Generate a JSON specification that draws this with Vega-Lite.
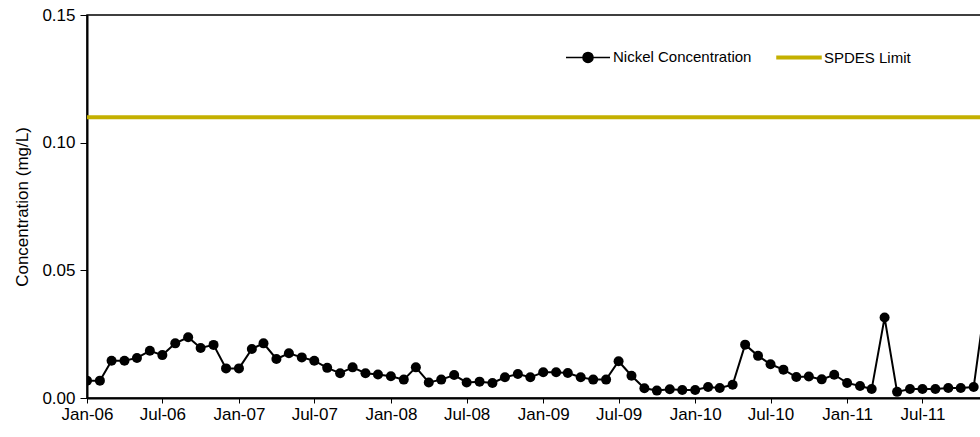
{
  "$schema": "https://vega.github.io/schema/vega-lite/v6.json",
  "autosize": "none",
  "padding": {"left": 87, "top": 15, "right": 0, "bottom": 39},
  "width": 895,
  "height": 383,
  "background": "white",
  "config": {
    "font": "Liberation Sans",
    "view": {"stroke": "black", "strokeWidth": 1.5},
    "axis": {
      "grid": false,
      "domainColor": "black",
      "domainWidth": 2,
      "tickColor": "black",
      "tickWidth": 1,
      "labelColor": "black",
      "labelFont": "Liberation Sans",
      "labelFontSize": 17,
      "titleFont": "Liberation Sans",
      "titleFontSize": 17,
      "titleFontWeight": "normal",
      "titleColor": "black"
    }
  },
  "datasets": {
    "nickel": [
      {"date": "2006-01-01", "value": 0.0068, "series": "Nickel Concentration"},
      {"date": "2006-02-01", "value": 0.0068, "series": "Nickel Concentration"},
      {"date": "2006-03-01", "value": 0.0146, "series": "Nickel Concentration"},
      {"date": "2006-04-01", "value": 0.0146, "series": "Nickel Concentration"},
      {"date": "2006-05-01", "value": 0.0157, "series": "Nickel Concentration"},
      {"date": "2006-06-01", "value": 0.0185, "series": "Nickel Concentration"},
      {"date": "2006-07-01", "value": 0.0168, "series": "Nickel Concentration"},
      {"date": "2006-08-01", "value": 0.0214, "series": "Nickel Concentration"},
      {"date": "2006-09-01", "value": 0.0238, "series": "Nickel Concentration"},
      {"date": "2006-10-01", "value": 0.0196, "series": "Nickel Concentration"},
      {"date": "2006-11-01", "value": 0.0208, "series": "Nickel Concentration"},
      {"date": "2006-12-01", "value": 0.0116, "series": "Nickel Concentration"},
      {"date": "2007-01-01", "value": 0.0116, "series": "Nickel Concentration"},
      {"date": "2007-02-01", "value": 0.0192, "series": "Nickel Concentration"},
      {"date": "2007-03-01", "value": 0.0214, "series": "Nickel Concentration"},
      {"date": "2007-04-01", "value": 0.0153, "series": "Nickel Concentration"},
      {"date": "2007-05-01", "value": 0.0175, "series": "Nickel Concentration"},
      {"date": "2007-06-01", "value": 0.0159, "series": "Nickel Concentration"},
      {"date": "2007-07-01", "value": 0.0146, "series": "Nickel Concentration"},
      {"date": "2007-08-01", "value": 0.0118, "series": "Nickel Concentration"},
      {"date": "2007-09-01", "value": 0.0097, "series": "Nickel Concentration"},
      {"date": "2007-10-01", "value": 0.0120, "series": "Nickel Concentration"},
      {"date": "2007-11-01", "value": 0.0097, "series": "Nickel Concentration"},
      {"date": "2007-12-01", "value": 0.0092, "series": "Nickel Concentration"},
      {"date": "2008-01-01", "value": 0.0085, "series": "Nickel Concentration"},
      {"date": "2008-02-01", "value": 0.0072, "series": "Nickel Concentration"},
      {"date": "2008-03-01", "value": 0.0120, "series": "Nickel Concentration"},
      {"date": "2008-04-01", "value": 0.0061, "series": "Nickel Concentration"},
      {"date": "2008-05-01", "value": 0.0072, "series": "Nickel Concentration"},
      {"date": "2008-06-01", "value": 0.0090, "series": "Nickel Concentration"},
      {"date": "2008-07-01", "value": 0.0061, "series": "Nickel Concentration"},
      {"date": "2008-08-01", "value": 0.0064, "series": "Nickel Concentration"},
      {"date": "2008-09-01", "value": 0.0059, "series": "Nickel Concentration"},
      {"date": "2008-10-01", "value": 0.0081, "series": "Nickel Concentration"},
      {"date": "2008-11-01", "value": 0.0094, "series": "Nickel Concentration"},
      {"date": "2008-12-01", "value": 0.0081, "series": "Nickel Concentration"},
      {"date": "2009-01-01", "value": 0.0101, "series": "Nickel Concentration"},
      {"date": "2009-02-01", "value": 0.0101, "series": "Nickel Concentration"},
      {"date": "2009-03-01", "value": 0.0098, "series": "Nickel Concentration"},
      {"date": "2009-04-01", "value": 0.0081, "series": "Nickel Concentration"},
      {"date": "2009-05-01", "value": 0.0072, "series": "Nickel Concentration"},
      {"date": "2009-06-01", "value": 0.0072, "series": "Nickel Concentration"},
      {"date": "2009-07-01", "value": 0.0144, "series": "Nickel Concentration"},
      {"date": "2009-08-01", "value": 0.0087, "series": "Nickel Concentration"},
      {"date": "2009-09-01", "value": 0.0038, "series": "Nickel Concentration"},
      {"date": "2009-10-01", "value": 0.0029, "series": "Nickel Concentration"},
      {"date": "2009-11-01", "value": 0.0034, "series": "Nickel Concentration"},
      {"date": "2009-12-01", "value": 0.0031, "series": "Nickel Concentration"},
      {"date": "2010-01-01", "value": 0.0031, "series": "Nickel Concentration"},
      {"date": "2010-02-01", "value": 0.0043, "series": "Nickel Concentration"},
      {"date": "2010-03-01", "value": 0.0039, "series": "Nickel Concentration"},
      {"date": "2010-04-01", "value": 0.0052, "series": "Nickel Concentration"},
      {"date": "2010-05-01", "value": 0.0209, "series": "Nickel Concentration"},
      {"date": "2010-06-01", "value": 0.0165, "series": "Nickel Concentration"},
      {"date": "2010-07-01", "value": 0.0132, "series": "Nickel Concentration"},
      {"date": "2010-08-01", "value": 0.0111, "series": "Nickel Concentration"},
      {"date": "2010-09-01", "value": 0.0082, "series": "Nickel Concentration"},
      {"date": "2010-10-01", "value": 0.0084, "series": "Nickel Concentration"},
      {"date": "2010-11-01", "value": 0.0073, "series": "Nickel Concentration"},
      {"date": "2010-12-01", "value": 0.0091, "series": "Nickel Concentration"},
      {"date": "2011-01-01", "value": 0.0059, "series": "Nickel Concentration"},
      {"date": "2011-02-01", "value": 0.0047, "series": "Nickel Concentration"},
      {"date": "2011-03-01", "value": 0.0035, "series": "Nickel Concentration"},
      {"date": "2011-04-01", "value": 0.0315, "series": "Nickel Concentration"},
      {"date": "2011-05-01", "value": 0.0024, "series": "Nickel Concentration"},
      {"date": "2011-06-01", "value": 0.0035, "series": "Nickel Concentration"},
      {"date": "2011-07-01", "value": 0.0035, "series": "Nickel Concentration"},
      {"date": "2011-08-01", "value": 0.0035, "series": "Nickel Concentration"},
      {"date": "2011-09-01", "value": 0.0039, "series": "Nickel Concentration"},
      {"date": "2011-10-01", "value": 0.0039, "series": "Nickel Concentration"},
      {"date": "2011-11-01", "value": 0.0043, "series": "Nickel Concentration"},
      {"date": "2011-12-01", "value": 0.0400, "series": "Nickel Concentration"}
    ],
    "limit": [
      {"series": "SPDES Limit", "limit": 0.11}
    ]
  },
  "layer": [
    {
      "data": {"name": "limit"},
      "mark": {"type": "rule", "strokeWidth": 4},
      "encoding": {
        "y": {"field": "limit", "type": "quantitative"},
        "color": {"field": "series", "type": "nominal"}
      }
    },
    {
      "data": {"name": "nickel"},
      "mark": {"type": "line", "strokeWidth": 2, "clip": true, "point": {"filled": true, "size": 100, "opacity": 1}},
      "encoding": {
        "x": {
          "field": "date",
          "timeUnit": "utcyearmonth",
          "type": "temporal",
          "scale": {"domain": [{"year": 2006, "month": 1, "date": 1, "utc": true}, {"year": 2011, "month": 11, "date": 21, "utc": true}]},
          "axis": {
            "title": null,
            "format": "%b-%y",
            "values": [
              {"year": 2006, "month": 1, "date": 1, "utc": true},
              {"year": 2006, "month": 7, "date": 1, "utc": true},
              {"year": 2007, "month": 1, "date": 1, "utc": true},
              {"year": 2007, "month": 7, "date": 1, "utc": true},
              {"year": 2008, "month": 1, "date": 1, "utc": true},
              {"year": 2008, "month": 7, "date": 1, "utc": true},
              {"year": 2009, "month": 1, "date": 1, "utc": true},
              {"year": 2009, "month": 7, "date": 1, "utc": true},
              {"year": 2010, "month": 1, "date": 1, "utc": true},
              {"year": 2010, "month": 7, "date": 1, "utc": true},
              {"year": 2011, "month": 1, "date": 1, "utc": true},
              {"year": 2011, "month": 7, "date": 1, "utc": true}
            ],
            "tickSize": 5,
            "labelPadding": 3,
            "labelOverlap": false,
            "labelFlush": false
          }
        },
        "y": {
          "field": "value",
          "type": "quantitative",
          "scale": {"domain": [0, 0.15], "nice": false},
          "axis": {
            "title": "Concentration (mg/L)",
            "values": [0, 0.05, 0.1, 0.15],
            "format": ".2f",
            "tickSize": 7,
            "labelPadding": 5,
            "titlePadding": 10
          }
        },
        "color": {
          "field": "series",
          "type": "nominal",
          "scale": {"domain": ["Nickel Concentration", "SPDES Limit"], "range": ["black", "#c4b000"]},
          "legend": {
            "title": null,
            "orient": "none",
            "legendX": 478,
            "legendY": 19,
            "direction": "horizontal",
            "symbolSize": 1936,
            "symbolType": "stroke",
            "symbolStrokeWidth": 1.5,
            "labelFont": "Liberation Sans",
            "labelFontSize": 15,
            "labelColor": "black",
            "labelOffset": 2,
            "columnPadding": 22,
            "padding": 0,
            "encode": {
              "symbols": {
                "update": {
                  "shape": {"signal": "datum.value === 'Nickel Concentration' ? 'M-1,0L1,0M-0.23,0A0.23,0.23 0 1,0 0.23,0A0.23,0.23 0 1,0 -0.23,0Z' : 'M-1,-0.055L1,-0.055L1,0.055L-1,0.055Z'"},
                  "fill": {"signal": "datum.value === 'Nickel Concentration' ? 'black' : '#c4b000'"}
                }
              }
            }
          }
        }
      }
    }
  ]
}
